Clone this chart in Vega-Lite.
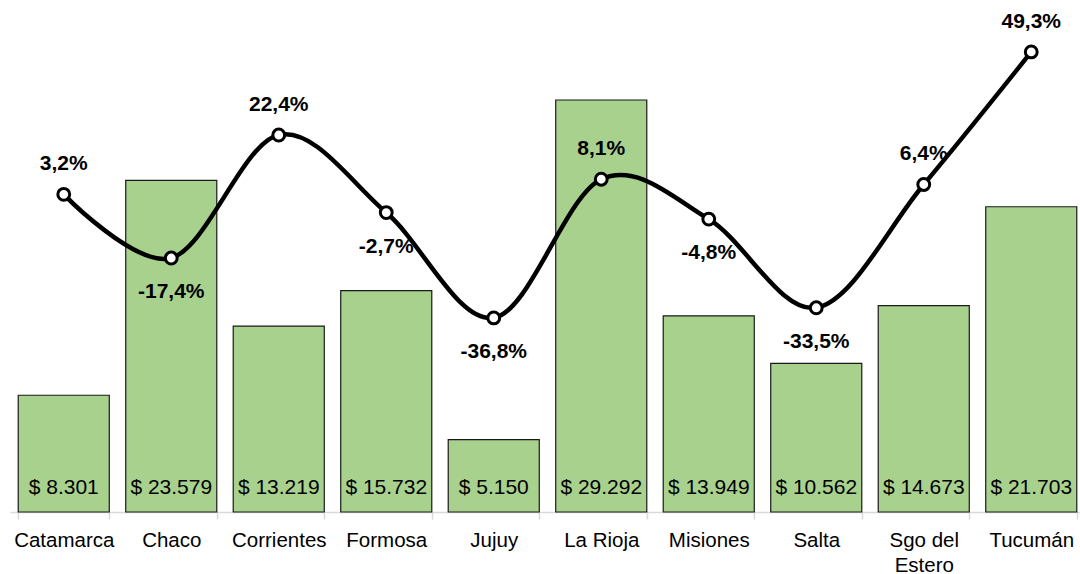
{
  "$schema": "https://vega.github.io/schema/vega-lite/v6.json",
  "width": 1075,
  "height": 512,
  "autosize": {"type": "none"},
  "padding": {"left": 10, "top": 0, "right": 0, "bottom": 62},
  "background": "white",
  "config": {
    "view": {"stroke": null},
    "font": "Liberation Sans",
    "text": {"font": "Liberation Sans"}
  },
  "data": {
    "values": [
      {"provincia": "Catamarca", "monto": 8301, "pct": 3.2},
      {"provincia": "Chaco", "monto": 23579, "pct": -17.4},
      {"provincia": "Corrientes", "monto": 13219, "pct": 22.4},
      {"provincia": "Formosa", "monto": 15732, "pct": -2.7},
      {"provincia": "Jujuy", "monto": 5150, "pct": -36.8},
      {"provincia": "La Rioja", "monto": 29292, "pct": 8.1},
      {"provincia": "Misiones", "monto": 13949, "pct": -4.8},
      {"provincia": "Salta", "monto": 10562, "pct": -33.5},
      {"provincia": "Sgo del Estero", "monto": 14673, "pct": 6.4},
      {"provincia": "Tucumán", "monto": 21703, "pct": 49.3}
    ]
  },
  "transform": [
    {"calculate": "'$ ' + replace(format(datum.monto, ','), ',', '.')", "as": "montoLabel"},
    {"calculate": "replace(replace(format(datum.pct, '.1f'), '.', ','), '\u2212', '-') + '%'", "as": "pctLabel"}
  ],
  "encoding": {
    "x": {
      "field": "provincia",
      "type": "nominal",
      "sort": null,
      "scale": {"paddingInner": 0.153, "paddingOuter": 0.0765},
      "axis": {
        "title": null,
        "labelAngle": 0,
        "labelFontSize": 20.5,
        "labelColor": "black",
        "labelFont": "Liberation Sans",
        "labelPadding": 11,
        "labelLineHeight": 25,
        "labelExpr": "datum.label == 'Sgo del Estero' ? ['Sgo del', 'Estero'] : datum.label",
        "domainColor": "#d9d9d9",
        "domainWidth": 1.5,
        "tickColor": "#d9d9d9",
        "tickWidth": 1.5,
        "tickSize": 7,
        "tickBand": "extent",
        "grid": false
      }
    }
  },
  "layer": [
    {
      "mark": {"type": "bar", "fill": "#A9D18E", "stroke": "#1a1a1a", "strokeWidth": 1.2},
      "encoding": {
        "y": {"field": "monto", "type": "quantitative", "scale": {"domain": [0, 36400]}, "axis": null}
      }
    },
    {
      "mark": {"type": "text", "fontSize": 21, "color": "black", "baseline": "middle", "dy": -24},
      "encoding": {
        "y": {"datum": 0, "type": "quantitative", "scale": {"domain": [0, 36400]}, "axis": null},
        "text": {"field": "montoLabel"}
      }
    },
    {
      "mark": {"type": "line", "interpolate": "cardinal", "color": "black", "strokeWidth": 4.5},
      "encoding": {
        "y": {"field": "pct", "type": "quantitative", "scale": {"domain": [-99.6, 66.1]}, "axis": null}
      }
    },
    {
      "mark": {"type": "point", "shape": "circle", "filled": false, "fill": "white", "fillOpacity": 1, "stroke": "black", "strokeWidth": 3, "size": 140, "opacity": 1},
      "encoding": {
        "y": {"field": "pct", "type": "quantitative", "scale": {"domain": [-99.6, 66.1]}, "axis": null}
      }
    },
    {
      "transform": [{"filter": "datum.pct >= 0"}],
      "mark": {"type": "text", "fontSize": 21, "fontWeight": "bold", "color": "black", "baseline": "middle", "dy": -30},
      "encoding": {
        "y": {"field": "pct", "type": "quantitative", "scale": {"domain": [-99.6, 66.1]}, "axis": null},
        "text": {"field": "pctLabel"}
      }
    },
    {
      "transform": [{"filter": "datum.pct < 0"}],
      "mark": {"type": "text", "fontSize": 21, "fontWeight": "bold", "color": "black", "baseline": "middle", "dy": 34},
      "encoding": {
        "y": {"field": "pct", "type": "quantitative", "scale": {"domain": [-99.6, 66.1]}, "axis": null},
        "text": {"field": "pctLabel"}
      }
    }
  ],
  "resolve": {"scale": {"y": "independent"}}
}
